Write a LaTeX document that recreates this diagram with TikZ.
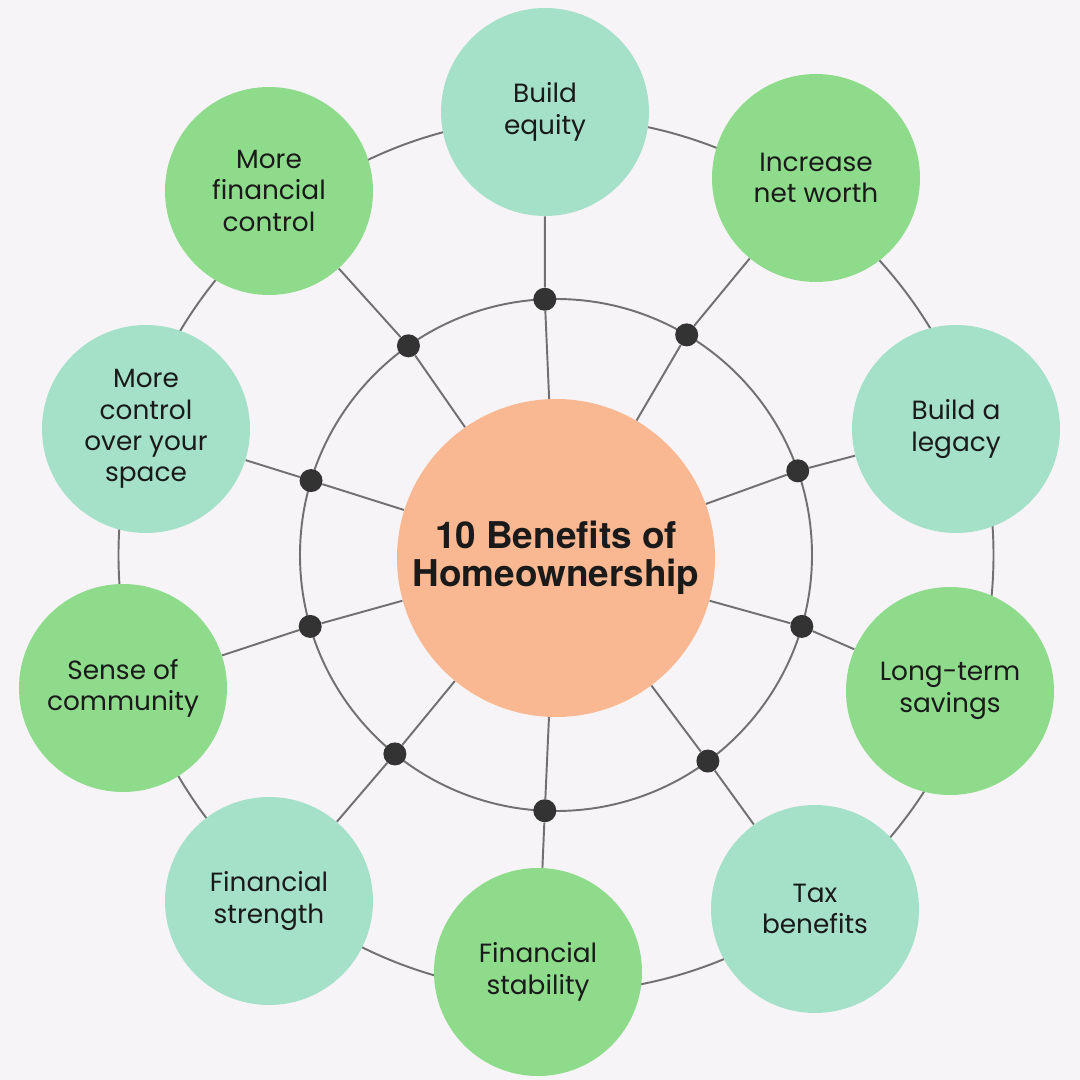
\documentclass[tikz,border=0pt]{standalone}
\usepackage{fontspec}
\setmainfont{Poppins}
\newfontfamily\titlefont{TeX Gyre Heros}
\usetikzlibrary{backgrounds}
\definecolor{pagebg}{HTML}{F6F4F6}
\definecolor{tealfill}{HTML}{A4E1C8}
\definecolor{greenfill}{HTML}{8EDB8C}
\definecolor{hubfill}{HTML}{F9B892}
\definecolor{linegray}{HTML}{707070}
\definecolor{dotgray}{HTML}{333333}
\definecolor{ink}{HTML}{1A1A1A}
\tikzset{
  benefit/.style={
    circle,
    minimum size=4.16cm,
    inner sep=0pt,
    align=center,
    text=ink,
    font=\fontsize{15}{17.8}\selectfont
  },
  tealbenefit/.style={benefit, fill=tealfill},
  greenbenefit/.style={benefit, fill=greenfill},
  hub/.style={
    circle,
    fill=hubfill,
    minimum size=6.36cm,
    inner sep=0pt,
    align=center,
    text=ink,
    font=\titlefont\bfseries\fontsize{21}{21.5}\selectfont
  },
  joint/.style={circle, fill=dotgray, minimum size=0.46cm, inner sep=0pt},
  spoke/.style={draw=linegray, line width=1.1pt},
  ring/.style={draw=linegray, line width=1.1pt}
}
\newcommand{\outerR}{8.75}
\newcommand{\innerR}{5.12}

\begin{document}
\begin{tikzpicture}
  \useasboundingbox (-11.12,-10.50) rectangle (10.48,11.10);
  \node[hub] (hub) at (0,-0.06) {10 Benefits of\\Homeownership};
  % benefits, clockwise from the top
  \node[tealbenefit]  (b1)  at (-0.22,8.86) {Build\\equity};
  \node[greenbenefit] (b2)  at (5.20,7.54)  {Increase\\net worth};
  \node[tealbenefit]  (b3)  at (8.00,2.52)  {Build a\\legacy};
  \node[greenbenefit] (b4)  at (7.88,-2.72) {Long-term\\savings};
  \node[tealbenefit]  (b5)  at (5.18,-7.08) {Tax\\benefits};
  \node[greenbenefit] (b6)  at (-0.36,-8.34) {Financial\\stability};
  \node[tealbenefit]  (b7)  at (-5.74,-6.92) {Financial\\strength};
  \node[greenbenefit] (b8)  at (-8.66,-2.66) {Sense of\\community};
  \node[tealbenefit]  (b9)  at (-8.20,2.52) {More\\control\\over your\\space};
  \node[greenbenefit] (b10) at (-5.74,7.28) {More\\financial\\control};
  % joints on the inner ring
  \node[joint] (j1)  at (92.5:\innerR)   {};
  \node[joint] (j2)  at (59.3:\innerR)   {};
  \node[joint] (j3)  at (19.2:\innerR)   {};
  \node[joint] (j4)  at (-16.2:\innerR)  {};
  \node[joint] (j5)  at (-53.6:\innerR)  {};
  \node[joint] (j6)  at (-92.5:\innerR)  {};
  \node[joint] (j7)  at (-129:\innerR)   {};
  \node[joint] (j8)  at (-163.8:\innerR) {};
  \node[joint] (j9)  at (163.1:\innerR)  {};
  \node[joint] (j10) at (125.2:\innerR)  {};
  \begin{scope}[on background layer]
    \fill[pagebg] (-11.12,-10.50) rectangle (10.48,11.10);
    \draw[ring] (0,0) circle (\outerR);
    \draw[ring] (0,0) circle (\innerR);
    \draw[spoke] (hub) -- (j1)  -- (b1);
    \draw[spoke] (hub) -- (j2)  -- (b2);
    \draw[spoke] (hub) -- (j3)  -- (b3);
    \draw[spoke] (hub) -- (j4)  -- (b4);
    \draw[spoke] (hub) -- (j5)  -- (b5);
    \draw[spoke] (hub) -- (j6)  -- (b6);
    \draw[spoke] (hub) -- (j7)  -- (b7);
    \draw[spoke] (hub) -- (j8)  -- (b8);
    \draw[spoke] (hub) -- (j9)  -- (b9);
    \draw[spoke] (hub) -- (j10) -- (b10);
  \end{scope}
\end{tikzpicture}
\end{document}
